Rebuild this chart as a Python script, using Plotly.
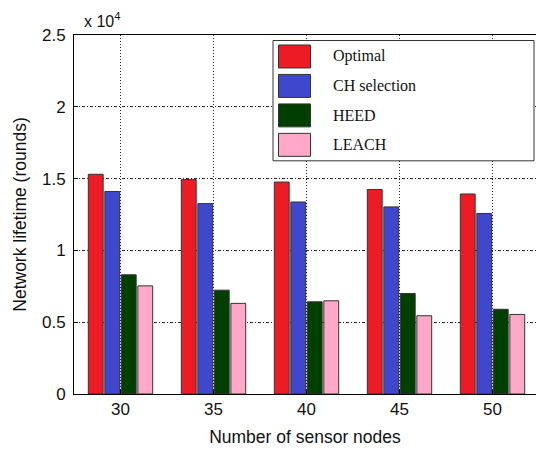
import plotly.graph_objects as go

categories = ["30", "35", "40", "45", "50"]
series_names = ["Optimal", "CH selection", "HEED", "LEACH"]
optimal = [15300, 14930, 14760, 14240, 13930]
ch_selection = [14100, 13260, 13370, 13030, 12570]
heed = [8300, 7230, 6420, 7000, 5900]
leach = [7530, 6310, 6490, 5450, 5540]
colors = ["#ED1C24", "#3F48CC", "#003F00", "#FFA8C8"]
y_tickvals = [0, 5000, 10000, 15000, 20000, 25000]
y_ticktext = ["0", "0.5", "1", "1.5", "2", "2.5"]

values = [optimal, ch_selection, heed, leach]
xpos = list(range(1, len(categories) + 1))

fig = go.Figure()
for name, vals, col in zip(series_names, values, colors):
    fig.add_trace(go.Bar(x=xpos, y=vals, name=name, marker_color=col,
                         marker_line=dict(color="#333333", width=1), showlegend=False))

fig.update_layout(
    width=536, height=449,
    margin=dict(l=74, r=0, t=34.5, b=55),
    plot_bgcolor="white", paper_bgcolor="white",
    barmode="group", bargap=0.29, bargroupgap=0.1,
    font=dict(family="Liberation Sans, Arial", size=14, color="#111111"),
)
fig.update_xaxes(
    range=[0.5, 0.5 + 462 / 93], tickvals=xpos, ticktext=categories,
    showgrid=True, gridcolor="#222222", griddash="1px,2px", gridwidth=1,
    showline=True, linecolor="black", linewidth=1, mirror=True,
    ticks="inside", ticklen=4, tickcolor="black", automargin=False,
    title=dict(text="Number of sensor nodes", font=dict(size=17.5), standoff=12),
    tickfont=dict(size=17),
)
fig.update_yaxes(
    range=[0, 25000], tickvals=y_tickvals, ticktext=y_ticktext,
    showgrid=True, gridcolor="#222222", griddash="3px,2px,1px,2px", gridwidth=1,
    showline=True, linecolor="black", linewidth=1, mirror=True,
    ticks="inside", ticklen=4, tickcolor="black", automargin=False,
    ticklabelstandoff=4,
    title=dict(text="Network lifetime (rounds)", font=dict(size=17.5), standoff=10),
    tickfont=dict(size=17), zeroline=False,
)

fig.add_annotation(xref="paper", yref="paper", x=(82 - 74) / 462, y=1.0, yshift=3,
                   xanchor="left", yanchor="bottom", showarrow=False,
                   text="x 10<sup>4</sup>", font=dict(size=16))

# custom legend (box + swatches + labels)
W, H = 462, 359.5
def px(x):
    return (x - 74) / W
def py(y):
    return (394 - y) / H

fig.add_shape(type="rect", xref="paper", yref="paper",
              x0=px(273), x1=px(534), y0=py(160.5), y1=py(40),
              line=dict(color="#333333", width=1), fillcolor="white", layer="above")
for i, (name, col) in enumerate(zip(series_names, colors)):
    top = 44.5 + i * 29.5
    fig.add_shape(type="rect", xref="paper", yref="paper",
                  x0=px(278.5), x1=px(310.5), y0=py(top + 23), y1=py(top),
                  line=dict(color="#333333", width=1), fillcolor=col, layer="above")
    fig.add_annotation(xref="paper", yref="paper", x=px(331), y=py(top + 11.5),
                       xanchor="left", yanchor="middle", showarrow=False,
                       text=name, font=dict(family="Liberation Serif, Times New Roman", size=16, color="#111111"))

fig.write_html("out.html", config={"displayModeBar": False},
               post_script="document.body.style.margin='0';document.body.style.overflow='hidden';")
